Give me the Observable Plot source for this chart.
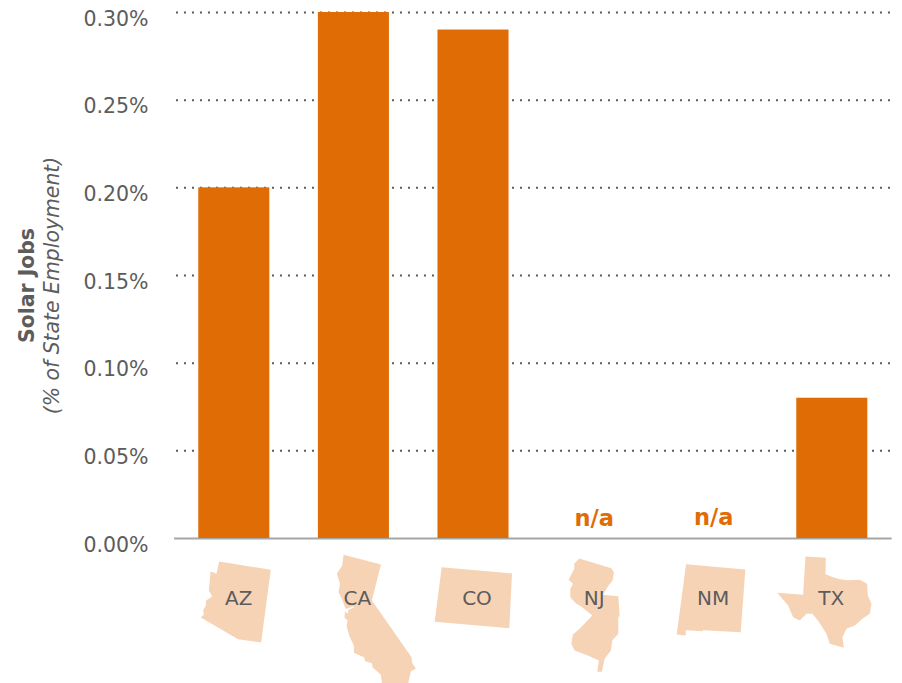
<!DOCTYPE html>
<html>
<head>
<meta charset="utf-8">
<script src="https://cdn.jsdelivr.net/npm/d3@7"></script>
<script src="https://cdn.jsdelivr.net/npm/@observablehq/plot@0.6"></script>
<style>
html,body{margin:0;padding:0;background:#fff;overflow:hidden}
svg{display:block}
</style>
</head>
<body>
<div id="chart"></div>
<script>
const states = ["AZ","CA","CO","NJ","NM","TX"];
const jobsShare = [0.2, 0.3, 0.29, null, null, 0.08];
const yTicks = [0, 0.05, 0.1, 0.15, 0.2, 0.25, 0.3];
const gridTicks = [0.05, 0.1, 0.15, 0.2, 0.25, 0.3];
const naStates = ["NJ","NM"];
const naHeights = [0.0112, 0.012];
const titleBold = "Solar Jobs";
const titleItalic = "(% of State Employment)";

// Outlines, in map units of a third of a pixel
const azOutline = [[118,63],[273,88],[244,306],[175,296],[63,231],[72,222],[70,210],[78,195],[79,180],[97,168],[87,150],[90,120],[92,93],[100,95],[110,100]];
const caOutline = [[491,43],[603,72],[576,180],[695,350],[697,368],[708,384],[693,392],[684,432],[606,432],[603,403],[578,380],[576,368],[556,362],[552,350],[522,337],[522,316],[508,285],[500,257],[503,240],[494,232],[495,212],[503,220],[506,208],[522,201],[520,198],[503,204],[497,205],[488,180],[476,155],[480,130],[471,100],[487,75]];
const coOutline = [[785,80],[996,99],[988,263],[764,244]];
const njOutline = [[119,174],[215,203],[223,215],[219,240],[207,255],[190,283],[236,287],[240,345],[236,352],[236,400],[218,420],[214,450],[195,475],[187,514],[173,514],[178,480],[145,465],[105,450],[95,430],[100,402],[120,385],[158,345],[125,318],[110,310],[92,290],[92,265],[100,250],[87,238],[104,205],[104,190]];
const nmOutline = [[439,191],[617,207],[603,395],[490,389],[489,392],[438,389],[438,405],[411,402]];
const txOutline = [[797,168],[858,172],[857,221],[880,230],[900,236],[925,239],[960,238],[982,250],[984,285],[995,310],[990,340],[968,355],[945,375],[920,385],[908,410],[912,442],[870,430],[860,400],[838,365],[818,340],[800,340],[780,360],[760,350],[745,315],[712,277],[790,283]];
const outlines = [azOutline, caOutline, coOutline, njOutline, nmOutline, txOutline];
const outlineOriginX = [163.5, 522, 880.5, 160.5, 519, 877.5];
const outlineOriginY = [15, 15, 15, 135, 135, 135];
const labelX = [13.5, 10.5, 10.5, 3, 1.5, -3];
const labelY = 159;

const ink = "#5c5c5c", orange = "#e06c05", pale = "#f7d3b6", font = "'DejaVu Sans', sans-serif";

const bars = states.map((s, i) => ({state: s, value: jobsShare[i]})).filter(d => d.value != null);
const na = naStates.map((s, i) => ({state: s, h: naHeights[i]}));
const mapVertices = outlines.flatMap((o, i) => o.map(([u, v]) => ({
  state: states[i], u: u - outlineOriginX[i], v: v - outlineOriginY[i]
})));
const labels = states.map((s, i) => ({state: s, u: labelX[i], v: labelY}));

const barChart = Plot.plot({
  width: 902, height: 560,
  marginTop: 12, marginBottom: 22, marginLeft: 174, marginRight: 10.4,
  style: {fontFamily: font, background: "transparent"},
  x: {domain: states, paddingInner: 0.406, paddingOuter: 0.203, round: false, axis: null},
  y: {domain: [0, 0.3], axis: null},
  marks: [
    Plot.ruleY(gridTicks, {stroke: ink, strokeWidth: 2, strokeDasharray: "2,6", strokeDashoffset: 6, strokeOpacity: 1}),
    Plot.ruleY([0], {stroke: "#a6a6a6", strokeWidth: 2}),
    Plot.axisY(yTicks, {
      anchor: "left", tickSize: 0, tickPadding: 26, fontSize: 20.5, dy: 6.7, color: ink,
      tickFormat: d => d.toFixed(2) + "%", label: null
    }),
    Plot.barY(bars, {x: "state", y: "value", fill: orange}),
    Plot.text(na, {x: "state", y: "h", text: () => "n/a", fill: orange, fontWeight: "bold", fontSize: 22.5, dx: 1, lineAnchor: "middle"}),
    Plot.text([titleBold], {frameAnchor: "left", dx: -147, dy: 10, rotate: -90, fill: ink, fontWeight: "bold", fontSize: 20.4, textAnchor: "middle", lineAnchor: "middle"}),
    Plot.text([titleItalic], {frameAnchor: "left", dx: -122, dy: 10, rotate: -90, fill: ink, fontStyle: "italic", fontSize: 20.4, textAnchor: "middle", lineAnchor: "middle"})
  ]
});

const map = Plot.plot({
  width: 902, height: 138,
  marginTop: 0, marginBottom: 0, marginLeft: 174, marginRight: 10.4,
  style: {fontFamily: font, background: "transparent", marginTop: "-15px"},
  fx: {domain: states, padding: 0, round: false, axis: null},
  x: {domain: [-179.4, 179.4], axis: null},
  y: {domain: [0, 414], reverse: true, axis: null},
  marks: [
    Plot.line(mapVertices, {fx: "state", x: "u", y: "v", z: "state", fill: pale, stroke: "none", curve: "linear-closed"}),
    Plot.text(labels, {fx: "state", x: "u", y: "v", text: "state", fill: ink, fontSize: 20, lineAnchor: "middle"})
  ]
});

document.getElementById("chart").append(barChart, map);
</script>
</body>
</html>
